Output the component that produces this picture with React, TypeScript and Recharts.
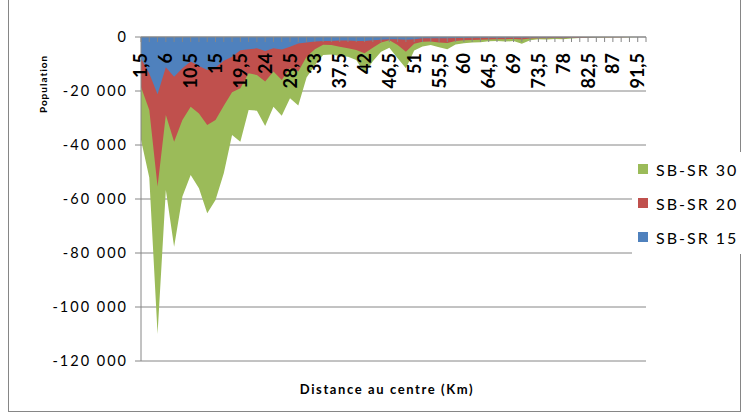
import { AreaChart, Area, XAxis, YAxis, CartesianGrid, Legend } from 'recharts'

// distance from the centre, in km (French decimal comma)
const distances = [
  '1,5', '3', '4,5', '6', '7,5', '9', '10,5', '12', '13,5', '15',
  '16,5', '18', '19,5', '21', '22,5', '24', '25,5', '27', '28,5', '30',
  '31,5', '33', '34,5', '36', '37,5', '39', '40,5', '42', '43,5', '45',
  '46,5', '48', '49,5', '51', '52,5', '54', '55,5', '57', '58,5', '60',
  '61,5', '63', '64,5', '66', '67,5', '69', '70,5', '72', '73,5', '75',
  '76,5', '78', '79,5', '81', '82,5', '84', '85,5', '87', '88,5', '90',
  '91,5', '93',
]

const sbsr30 = [
  -38100, -52000, -110000, -56700, -77700, -59100, -51100, -56000, -65300, -60400,
  -50500, -36300, -38800, -27000, -27300, -33000, -25800, -29200, -22700, -25400,
  -15000, -10500, -6700, -6500, -7000, -7300, -8500, -13400, -9000, -5500,
  -4000, -7900, -11600, -5000, -3500, -3000, -3800, -4500, -2800, -2300,
  -2000, -1900, -1600, -1500, -1700, -1500, -2500, -1200, -800, -900,
  -700, -800, -600, -400, -300, -200, -150, -100, -80, -60,
  -40, -20,
]

const sbsr20 = [
  -18500, -27000, -55400, -28900, -38800, -30700, -25800, -28300, -32600, -30700,
  -25500, -20500, -19000, -13400, -14100, -16500, -12800, -15900, -11600, -12800,
  -7300, -4500, -2900, -3000, -3600, -4200, -4800, -6000, -4000, -2000,
  -1200, -3000, -5500, -2500, -1800, -1700, -2000, -2200, -1500, -1200,
  -1100, -1000, -900, -800, -800, -700, -900, -600, -500, -500,
  -400, -500, -300, -300, -200, -120, -90, -70, -50, -40,
  -30, -10,
]

const sbsr15 = [
  -8000, -13500, -21200, -11200, -14700, -11600, -9100, -10700, -12200, -11300,
  -8800, -7300, -4900, -4500, -4200, -5200, -4200, -4600, -3600, -2400,
  -2000, -1700, -1500, -1500, -1300, -1300, -1500, -1500, -1200, -1000,
  -800, -800, -1000, -800, -500, -450, -450, -500, -400, -350,
  -300, -300, -250, -250, -250, -200, -250, -200, -150, -150,
  -120, -150, -100, -100, -80, -50, -40, -30, -20, -20,
  -10, -5,
]

const yTicks = [0, -20000, -40000, -60000, -80000, -100000, -120000]

// drawn back to front; the legend lists them in this order too
const series = [
  { key: 'sbsr30', name: 'SB-SR 30', color: '#9BBB59' },
  { key: 'sbsr20', name: 'SB-SR 20', color: '#C0504D' },
  { key: 'sbsr15', name: 'SB-SR 15', color: '#4F81BD' },
]

const rows = distances.map((km, i) => ({
  km,
  sbsr30: sbsr30[i],
  sbsr20: sbsr20[i],
  sbsr15: sbsr15[i],
}))

const GRID = '#868686'
const FONT = 'Lato, "Open Sans", sans-serif'

// "-20 000" style, space as thousands separator
const fmtPop = (v: number) => {
  if (v === 0) return '0'
  const s = String(Math.abs(v)).replace(/\B(?=(\d{3})+(?!\d))/g, ' ')
  return (v < 0 ? '-' : '') + s
}

// km labels sit inside the plot, under the top axis, one every 3 categories
const KmTick = (props: any) => {
  const { x, y, payload } = props
  const idx = props.index ?? payload?.index ?? 0
  if (idx % 3 !== 0) return <g />
  return (
    <text
      transform={`translate(${x},${y}) rotate(-90)`}
      textAnchor="end"
      dy="0.36em"
      style={{ fontFamily: FONT, fontWeight: 700, fontSize: 18 }}
      fill="#000"
    >
      {payload.value}
    </text>
  )
}

const LegendBox = () => (
  <div style={{ background: '#fff', paddingLeft: 6, fontFamily: FONT }}>
    {series.map((s) => (
      <div key={s.key} style={{ display: 'flex', alignItems: 'center', height: 34 }}>
        <span style={{ width: 10, height: 10, background: s.color, marginRight: 8 }} />
        <span style={{ fontSize: 16, letterSpacing: 2, color: '#000' }}>{s.name}</span>
      </div>
    ))}
  </div>
)

export default function App() {
  return (
    <div
      style={{
        position: 'fixed',
        left: 0,
        top: 0,
        width: 743,
        height: 414,
        background: '#fff',
        fontFamily: FONT,
        overflow: 'hidden',
      }}
    >
      <div
        style={{
          position: 'absolute',
          left: 8,
          top: -1,
          width: 733,
          height: 413,
          border: `1px solid ${GRID}`,
          boxSizing: 'border-box',
        }}
      />
      <AreaChart
        width={743}
        height={414}
        data={rows}
        margin={{ top: 37, right: 97, bottom: 53, left: 71 }}
      >
        <CartesianGrid vertical={false} stroke={GRID} />
        {series.map((s) => (
          <Area
            key={s.key}
            type="linear"
            dataKey={s.key}
            name={s.name}
            fill={s.color}
            fillOpacity={1}
            stroke="none"
            baseValue={0}
            isAnimationActive={false}
          />
        ))}
        <XAxis
          dataKey="km"
          orientation="top"
          mirror
          height={1}
          interval={0}
          tickSize={5}
          tickMargin={11}
          axisLine={{ stroke: GRID }}
          tickLine={{ stroke: GRID }}
          tick={<KmTick />}
        />
        <YAxis
          domain={[-120000, 0]}
          ticks={yTicks}
          tickFormatter={fmtPop}
          width={70}
          tickSize={6}
          tickMargin={7}
          axisLine={{ stroke: GRID }}
          tickLine={{ stroke: GRID }}
          tick={{ fill: '#000', fontSize: 14.5, fontFamily: FONT, letterSpacing: 2 }}
        />
        <Legend
          layout="vertical"
          align="center"
          verticalAlign="middle"
          content={<LegendBox />}
          wrapperStyle={{ left: 632, top: 152, width: 111 }}
        />
      </AreaChart>
      <div
        style={{
          position: 'absolute',
          left: 43,
          top: 84,
          transform: 'translate(-50%, -50%) rotate(-90deg)',
          whiteSpace: 'nowrap',
          fontSize: 10,
          fontWeight: 700,
          letterSpacing: 1,
          color: '#000',
        }}
      >
        Population
      </div>
      <div
        style={{
          position: 'absolute',
          left: 387,
          top: 389,
          transform: 'translate(-50%, -50%)',
          whiteSpace: 'nowrap',
          fontSize: 13,
          fontWeight: 700,
          letterSpacing: 1.6,
          color: '#000',
        }}
      >
        Distance au centre (Km)
      </div>
    </div>
  )
}
